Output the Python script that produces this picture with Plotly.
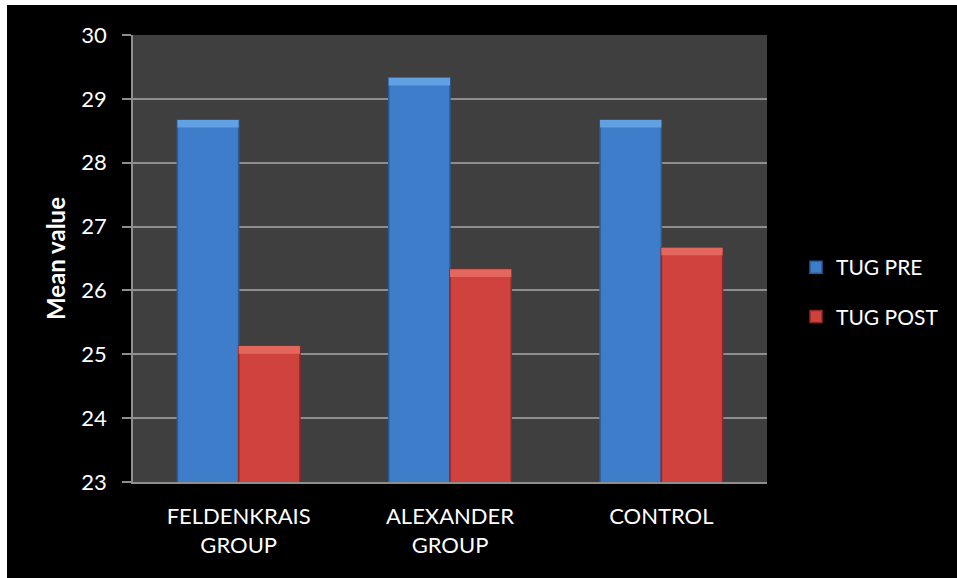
import plotly.graph_objects as go

# Timed Up and Go (TUG) mean values per group, before and after the intervention
groups = ["FELDENKRAIS<br>GROUP", "ALEXANDER<br>GROUP", "CONTROL"]
tug_pre = [28.67, 29.33, 28.67]
tug_post = [25.13, 26.33, 26.67]
series_names = ["TUG PRE", "TUG POST"]
y_ticks = [23, 24, 25, 26, 27, 28, 29, 30]

FONT = "Lato, 'Open Sans', sans-serif"
BEVEL = 0.12  # depth of the lighter bevel strip at the top of every bar

styles = [
    dict(fill="#3d7dca", edge="#2b5c98", light="#62a0e4"),
    dict(fill="#cf423d", edge="#8f2826", light="#e4675f"),
]

fig = go.Figure()
for name, values, st in zip(series_names, [tug_pre, tug_post], styles):
    fig.add_trace(go.Bar(
        x=groups, y=values, name=name, offsetgroup=name, legendgroup=name,
        marker=dict(color=st["fill"], line=dict(color=st["edge"], width=1.5)),
    ))
    # highlight strip along the top edge of each bar
    fig.add_trace(go.Bar(
        x=groups, y=[BEVEL] * len(values), base=[v - BEVEL for v in values],
        offsetgroup=name, legendgroup=name, showlegend=False, hoverinfo="skip",
        marker=dict(color=st["light"], line=dict(width=0)),
    ))

W, H = 957, 578
L, R, T, B = 133, 190, 35, 96
pw, ph = W - L - R, H - T - B

fig.update_layout(
    width=W, height=H,
    margin=dict(l=L, r=R, t=T, b=B),
    paper_bgcolor="#000000",
    plot_bgcolor="#3f3f3f",
    barmode="group",
    bargap=0.42,
    bargroupgap=0,
    font=dict(family=FONT, color="#ffffff", size=22),
    showlegend=True,
    legend=dict(
        x=(796 - L) / pw, xanchor="left",
        y=(H - B - 292) / ph, yanchor="middle",
        font=dict(size=21, color="#ffffff"),
        traceorder="grouped", tracegroupgap=19,
        bgcolor="rgba(0,0,0,0)",
    ),
    shapes=[
        # thin white frame strips along the top and left edges of the figure
        dict(type="rect", xref="paper", yref="paper", layer="above",
             x0=-L / pw - 0.01, x1=(W - L) / pw + 0.01,
             y0=(H - B - 5) / ph, y1=(H - B) / ph + 0.01,
             fillcolor="#ffffff", line=dict(width=0)),
        dict(type="rect", xref="paper", yref="paper", layer="above",
             x0=-L / pw - 0.01, x1=(7 - L) / pw,
             y0=-B / ph - 0.01, y1=(H - B) / ph + 0.01,
             fillcolor="#ffffff", line=dict(width=0)),
    ],
)

fig.update_yaxes(
    range=[23, 30], tickvals=y_ticks, ticktext=[str(v) for v in y_ticks],
    showgrid=True, gridcolor="#8e8e8e", gridwidth=1.5, zeroline=False,
    showline=True, linecolor="#8e8e8e", linewidth=1.5,
    ticks="outside", ticklen=9, tickcolor="#8e8e8e", tickwidth=1.5,
    ticklabelstandoff=11,
    tickfont=dict(size=22, color="#ffffff", family=FONT),
    title=dict(text="<b>Mean value</b>", standoff=9,
               font=dict(size=24, color="#ffffff", family=FONT)),
)
fig.update_xaxes(
    showline=True, linecolor="#8e8e8e", linewidth=1.5,
    ticks="", showgrid=False,
    ticklabelstandoff=14,
    tickfont=dict(size=22, color="#ffffff", family=FONT),
)

fig.write_html("out.html")
